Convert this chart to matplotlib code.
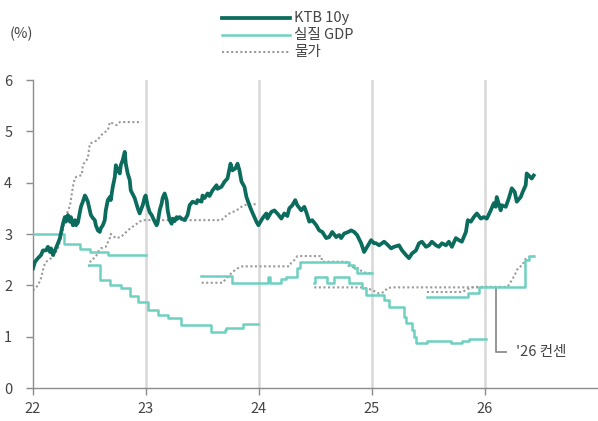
import numpy as np
import matplotlib.pyplot as plt
from matplotlib.lines import Line2D

plt.rcParams['font.family'] = ['Noto Sans CJK KR', 'DejaVu Sans']

# time axis in years since 2022 (0 = Jan '22), values in %
ktb_t = [0.000, 0.018, 0.044, 0.071, 0.088, 0.115, 0.132, 0.150, 0.159, 0.177,
         0.194, 0.221, 0.238, 0.247, 0.265, 0.282, 0.291, 0.309, 0.327, 0.335,
         0.353, 0.371, 0.380, 0.397, 0.415, 0.424, 0.441, 0.459, 0.468, 0.485,
         0.503, 0.512, 0.530, 0.547, 0.556, 0.574, 0.591, 0.600, 0.618, 0.635,
         0.644, 0.662, 0.680, 0.688, 0.706, 0.724, 0.733, 0.750, 0.768, 0.777,
         0.794, 0.812, 0.821, 0.838, 0.856, 0.865, 0.900, 0.927, 0.944, 0.953,
         0.971, 0.989, 0.997, 1.015, 1.033, 1.050, 1.077, 1.094, 1.103, 1.121,
         1.139, 1.147, 1.165, 1.183, 1.192, 1.209, 1.227, 1.236, 1.253, 1.271,
         1.280, 1.297, 1.315, 1.342, 1.368, 1.386, 1.412, 1.447, 1.456, 1.492,
         1.500, 1.518, 1.545, 1.562, 1.589, 1.624, 1.633, 1.668, 1.695, 1.721,
         1.748, 1.765, 1.792, 1.810, 1.827, 1.845, 1.871, 1.889, 1.915, 1.933,
         1.959, 1.977, 1.995, 2.021, 2.039, 2.065, 2.074, 2.109, 2.136, 2.162,
         2.198, 2.224, 2.251, 2.268, 2.295, 2.321, 2.339, 2.374, 2.401, 2.418,
         2.445, 2.471, 2.507, 2.533, 2.560, 2.595, 2.621, 2.648, 2.683, 2.710,
         2.727, 2.754, 2.780, 2.816, 2.842, 2.868, 2.904, 2.930, 2.957, 2.992,
         3.018, 3.036, 3.063, 3.107, 3.133, 3.169, 3.195, 3.239, 3.266, 3.301,
         3.327, 3.354, 3.389, 3.416, 3.442, 3.478, 3.504, 3.530, 3.566, 3.592,
         3.619, 3.654, 3.680, 3.707, 3.742, 3.769, 3.795, 3.831, 3.848, 3.875,
         3.901, 3.928, 3.963, 3.989, 4.016, 4.051, 4.078, 4.095, 4.104, 4.139,
         4.148, 4.184, 4.210, 4.237, 4.263, 4.281, 4.316, 4.334, 4.360, 4.369,
         4.387, 4.413, 4.431]
ktb_v = [2.33, 2.46, 2.53, 2.59, 2.68, 2.68, 2.75, 2.65, 2.72, 2.59,
         2.68, 2.82, 2.92, 3.01, 3.20, 3.33, 3.24, 3.37, 3.24, 3.33,
         3.17, 3.27, 3.17, 3.22, 3.43, 3.53, 3.63, 3.75, 3.72, 3.63,
         3.46, 3.37, 3.31, 3.27, 3.17, 3.07, 3.04, 3.11, 3.17, 3.27,
         3.46, 3.66, 3.72, 3.66, 3.92, 4.11, 4.34, 4.24, 4.18, 4.34,
         4.44, 4.60, 4.37, 4.18, 4.05, 3.85, 3.70, 3.50, 3.40, 3.46,
         3.56, 3.72, 3.75, 3.55, 3.42, 3.37, 3.24, 3.17, 3.22, 3.46,
         3.60, 3.70, 3.79, 3.66, 3.46, 3.27, 3.20, 3.30, 3.25, 3.33,
         3.30, 3.33, 3.30, 3.27, 3.37, 3.56, 3.63, 3.60, 3.66, 3.63,
         3.75, 3.70, 3.79, 3.74, 3.85, 3.95, 3.88, 3.92, 4.02, 4.08,
         4.37, 4.24, 4.28, 4.37, 4.24, 4.02, 3.92, 3.72, 3.56, 3.46,
         3.33, 3.24, 3.17, 3.27, 3.33, 3.40, 3.30, 3.43, 3.46, 3.40,
         3.30, 3.40, 3.35, 3.50, 3.56, 3.66, 3.56, 3.46, 3.53, 3.43,
         3.24, 3.27, 3.17, 3.07, 3.04, 2.92, 2.94, 3.04, 2.94, 2.98,
         2.92, 3.01, 3.03, 3.07, 3.04, 2.98, 2.82, 2.65, 2.75, 2.88,
         2.82, 2.82, 2.78, 2.85, 2.80, 2.72, 2.75, 2.78, 2.68, 2.59,
         2.53, 2.62, 2.68, 2.82, 2.85, 2.75, 2.78, 2.85, 2.78, 2.75,
         2.82, 2.78, 2.85, 2.75, 2.92, 2.88, 2.85, 3.04, 3.27, 3.24,
         3.33, 3.40, 3.30, 3.33, 3.30, 3.46, 3.60, 3.53, 3.72, 3.46,
         3.56, 3.53, 3.69, 3.89, 3.82, 3.63, 3.72, 3.82, 3.95, 4.18,
         4.14, 4.08, 4.14]

# real GDP consensus by target year (step series)
gdp22_t = [0.000, 0.270, 0.415, 0.503, 0.662, 1.000]
gdp22_v = [3.00, 2.80, 2.70, 2.65, 2.60, 2.60]
gdp23_t = [0.494, 0.591, 0.680, 0.777, 0.856, 0.927, 1.015, 1.103, 1.192,
           1.306, 1.571, 1.695, 1.705, 1.854, 1.995]
gdp23_v = [2.40, 2.10, 2.00, 1.95, 1.80, 1.67, 1.52, 1.42, 1.36,
           1.22, 1.09, 1.13, 1.17, 1.25, 1.25]
gdp24_t = [1.489, 1.765, 2.083, 2.100, 2.198, 2.242, 2.339, 2.365, 2.798,
           2.842, 2.868, 3.000]
gdp24_v = [2.18, 2.05, 2.17, 2.05, 2.12, 2.16, 2.33, 2.46, 2.39,
           2.33, 2.24, 2.24]
gdp25_t = [2.489, 2.492, 2.604, 2.665, 2.798, 2.913, 2.948, 3.107, 3.151,
           3.283, 3.301, 3.354, 3.372, 3.389, 3.486, 3.698, 3.795, 3.857, 4.007]
gdp25_v = [2.04, 2.17, 2.04, 2.17, 2.04, 1.95, 1.81, 1.71, 1.58,
           1.39, 1.26, 1.13, 1.00, 0.87, 0.92, 0.88, 0.92, 0.95, 0.95]
gdp26_t = [3.486, 3.848, 3.945, 4.351, 4.387, 4.431]
gdp26_v = [1.78, 1.85, 1.97, 2.49, 2.57, 2.57]

# CPI consensus by target year
cpi22_t = [0.000, 0.044, 0.071, 0.088, 0.106, 0.132, 0.177, 0.221, 0.238,
           0.265, 0.291, 0.327, 0.353, 0.371, 0.432, 0.441, 0.485, 0.503,
           0.565, 0.618, 0.662, 0.680, 0.741, 0.768, 0.962]
cpi22_v = [1.90, 2.00, 2.14, 2.30, 2.43, 2.49, 2.55, 2.72, 2.85,
           3.08, 3.35, 3.55, 3.92, 4.10, 4.15, 4.35, 4.47, 4.76,
           4.82, 4.96, 5.02, 5.18, 5.12, 5.18, 5.18]
cpi23_t = [0.494, 0.512, 0.556, 0.574, 0.600, 0.644, 0.680, 0.688, 0.733,
           0.777, 0.812, 0.838, 0.900, 0.944, 0.971, 1.668, 1.695, 1.739,
           1.801, 1.845, 1.871, 1.915, 1.986]
cpi23_v = [2.36, 2.49, 2.55, 2.65, 2.72, 2.75, 2.92, 3.00, 2.92,
           2.94, 3.01, 3.07, 3.17, 3.24, 3.27, 3.27, 3.33, 3.40,
           3.46, 3.53, 3.56, 3.58, 3.58]
cpi24_t = [1.492, 1.677, 1.712, 1.739, 1.765, 1.810, 1.853, 2.268, 2.286,
           2.312, 2.339, 2.551, 2.560, 2.771, 2.780, 2.824, 2.886, 2.913,
           2.957, 2.992]
cpi24_v = [2.05, 2.05, 2.14, 2.20, 2.26, 2.33, 2.37, 2.37, 2.44,
           2.49, 2.57, 2.57, 2.46, 2.46, 2.39, 2.36, 2.33, 2.26,
           2.24, 2.24]
cpi25_t = [2.489, 2.913, 2.957, 3.000, 3.036, 3.063, 3.107, 3.133, 3.169, 4.000]
cpi25_v = [1.96, 1.96, 1.94, 1.91, 1.87, 1.84, 1.87, 1.94, 1.96, 1.96]
cpi26_t = [3.486, 3.800, 3.850, 3.900, 4.200, 4.237, 4.263, 4.290, 4.334,
           4.351, 4.387, 4.431]
cpi26_v = [1.87, 1.87, 1.93, 1.97, 1.97, 2.10, 2.20, 2.33, 2.40,
           2.50, 2.55, 2.57]

years = [22, 23, 24, 25, 26]

c_ktb = '#0b6b5c'
c_gdp = '#6dd0c0'
c_cpi = '#9a9a9a'
c_axis = '#8c8c8c'
c_text = '#444444'

fig = plt.figure(figsize=(5.98, 4.21), dpi=100)
ax = fig.add_axes([33/598, 33/421, 1 - 33/598, 308/421])

for yr in years[1:]:
    ax.axvline(yr, color='#d8d8d8', lw=1.8, zorder=0)

for t, v in [(cpi22_t, cpi22_v), (cpi23_t, cpi23_v), (cpi24_t, cpi24_v),
             (cpi25_t, cpi25_v), (cpi26_t, cpi26_v)]:
    ax.plot(22 + np.array(t), v, color=c_cpi, lw=1.5, ls=(0, (1, 1.2)), zorder=2)

for t, v in [(gdp22_t, gdp22_v), (gdp23_t, gdp23_v), (gdp24_t, gdp24_v),
             (gdp25_t, gdp25_v), (gdp26_t, gdp26_v)]:
    ax.plot(22 + np.array(t), v, color=c_gdp, lw=1.8, drawstyle='steps-post', zorder=3)

ax.plot(22 + np.array(ktb_t), ktb_v, color=c_ktb, lw=2.7, zorder=4)

ax.set_xlim(22, 27)
ax.set_ylim(0, 6)
ax.set_xticks(years)
ax.set_xticklabels([str(y) for y in years])
ax.set_yticks(range(7))

for s in ['top', 'right']:
    ax.spines[s].set_visible(False)
for s in ['left', 'bottom']:
    ax.spines[s].set_color(c_axis)
    ax.spines[s].set_linewidth(1.0)
ax.tick_params(axis='both', colors=c_axis, length=5, width=1.0,
               labelcolor=c_text, labelsize=10.5)
ax.tick_params(axis='y', pad=10)
ax.tick_params(axis='x', pad=5)

# '26 consensus callout
ax.plot([26.095, 26.095, 26.19], [1.95, 0.7, 0.7], color=c_axis, lw=1.3)
ax.text(26.27, 0.7, "'26 컨센", fontsize=10.5, color=c_text, va='center', ha='left')

fig.text(10/598, 1 - 34/421, '(%)', fontsize=10.5, color=c_text, va='center')

# legend drawn by hand for tight row spacing
leg = [('KTB 10y', c_ktb, '-', 2.7, 18),
       ('실질 GDP', c_gdp, '-', 1.8, 35),
       ('물가', c_cpi, (0, (1, 1.2)), 1.5, 52)]
for label, c, ls, lw, ypx in leg:
    yf = 1 - ypx/421
    fig.add_artist(Line2D([222/598, 290/598], [yf, yf], color=c, ls=ls, lw=lw))
    fig.text(294/598, yf, label, fontsize=10.5, color=c_text, va='center')

fig.savefig('out.png', dpi=100)
